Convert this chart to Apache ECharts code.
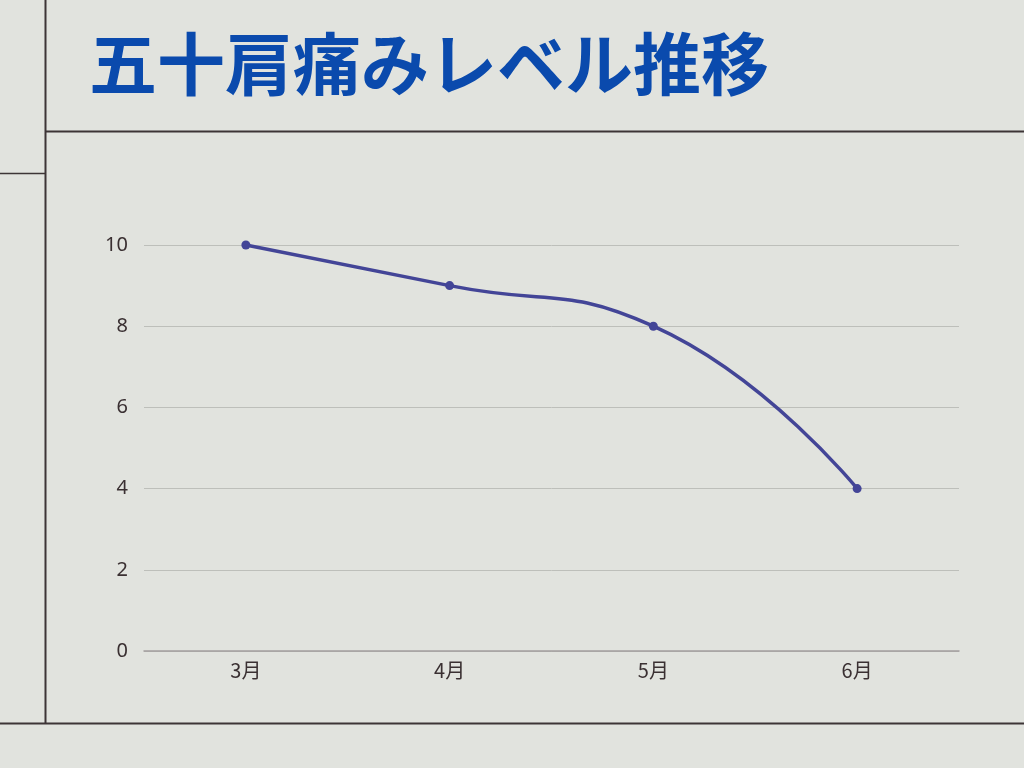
<!DOCTYPE html>
<html><head><meta charset="utf-8">
<script src="https://cdn.jsdelivr.net/npm/echarts@6/dist/echarts.min.js"></script>
<style>html,body{margin:0;padding:0;background:#e1e3de;}#c{width:1024px;height:768px;}</style>
</head><body><div id="c"></div>
<script>
const titleText = "五十肩痛みレベル推移";
const categories = ["3月", "4月", "5月", "6月"];
const painLevels = [10, 9, 8, 4];
const yTicks = [0, 2, 4, 6, 8, 10];

const chart = echarts.init(document.getElementById('c'));
const lineColor = '#3d3536';
chart.setOption({
  backgroundColor: '#e1e3de',
  animation: false,
  title: {
    text: titleText, left: 84, top: 25,
    textStyle: { fontFamily: 'Noto Sans CJK JP', fontWeight: 'bold', fontSize: 68, color: '#0a4aad' }
  },
  graphic: [
    { type: 'line', shape: { x1: 45.5, y1: 0, x2: 45.5, y2: 723 }, style: { stroke: lineColor, lineWidth: 2 } },
    { type: 'line', shape: { x1: 45, y1: 131.5, x2: 1024, y2: 131.5 }, style: { stroke: lineColor, lineWidth: 2 } },
    { type: 'line', shape: { x1: 0, y1: 173.5, x2: 45, y2: 173.5 }, style: { stroke: lineColor, lineWidth: 1.5 } },
    { type: 'line', shape: { x1: 0, y1: 723.5, x2: 1024, y2: 723.5 }, style: { stroke: lineColor, lineWidth: 2 } }
  ],
  grid: { left: 144, right: 65, top: 245, bottom: 117, containLabel: false },
  xAxis: {
    type: 'category', data: categories, boundaryGap: true,
    axisLine: { show: true, lineStyle: { color: '#a39e9e', width: 1.5 } },
    axisTick: { show: false },
    axisLabel: { color: '#3a3032', fontSize: 20, fontFamily: 'Noto Sans CJK JP', margin: 9 }
  },
  yAxis: {
    type: 'value', min: yTicks[0], max: yTicks[yTicks.length - 1], interval: 2,
    axisLine: { show: false }, axisTick: { show: false },
    splitLine: { lineStyle: { color: '#bdbfba', width: 1 } },
    axisLabel: { color: '#3a3032', fontSize: 20, fontFamily: 'Noto Sans', margin: 16, padding: [3, 0, 0, 0] }
  },
  series: [{
    type: 'line', data: painLevels, smooth: true,
    symbol: 'circle', symbolSize: 9,
    lineStyle: { color: '#434597', width: 3.5 },
    itemStyle: { color: '#434597' }
  }]
});
</script></body></html>
